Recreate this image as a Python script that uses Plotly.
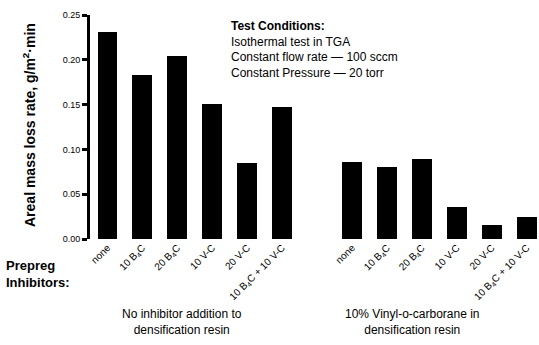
import plotly.graph_objects as go

inhibitors = ["none", "10 B<sub>4</sub>C", "20 B<sub>4</sub>C", "10 V-C", "20 V-C",
              "10 B<sub>4</sub>C + 10 V-C"]
no_additive = [0.231, 0.183, 0.204, 0.151, 0.085, 0.147]
vinyl_carborane = [0.086, 0.080, 0.089, 0.036, 0.016, 0.025]
y_ticks = [0.00, 0.05, 0.10, 0.15, 0.20, 0.25]

gap = 1
pos1 = list(range(len(inhibitors)))
pos2 = [p + len(inhibitors) + gap for p in pos1]

fig = go.Figure()
fig.add_trace(go.Bar(x=pos1, y=no_additive, marker=dict(color="black", line=dict(width=0)),
                     width=0.57, showlegend=False))
fig.add_trace(go.Bar(x=pos2, y=vinyl_carborane, marker=dict(color="black", line=dict(width=0)),
                     width=0.57, showlegend=False))

axis_color = "black"
font = "Liberation Sans, Arial, sans-serif"
fig.update_layout(
    width=539, height=345,
    margin=dict(l=90, r=0, t=15, b=106, autoexpand=False),
    plot_bgcolor="white", paper_bgcolor="white",
    font=dict(family=font, color="black"),
    xaxis=dict(range=[-0.5, 12.35], tickvals=pos1 + pos2, ticktext=inhibitors + inhibitors,
               tickangle=-45, tickfont=dict(size=10), ticks="", showgrid=False,
               zeroline=False, showline=False, automargin=False),
    yaxis=dict(range=[0, 0.25], tickmode="array", tickvals=y_ticks, tickformat=".2f",
               tickfont=dict(size=9), ticks="outside", ticklen=5, tickwidth=3,
               tickcolor=axis_color,
               showline=True, linewidth=3, linecolor=axis_color, showgrid=False, zeroline=False,
               automargin=False),
    bargap=0,
)

def px_x(p):
    return (p - 90) / 449

def px_y(p):
    return (239 - p) / 224

fig.add_annotation(xref="paper", yref="paper", x=px_x(29), y=px_y(125), textangle=-90,
                   text="<b>Areal mass loss rate, g/m<sup>2</sup>·min</b>", showarrow=False,
                   font=dict(size=14), xanchor="center", yanchor="middle")
fig.add_annotation(xref="paper", yref="paper", x=px_x(229), y=px_y(17), xanchor="left", yanchor="top",
                   align="left", showarrow=False, font=dict(size=12),
                   text="<b>Test Conditions:</b><br>Isothermal test in TGA<br>"
                        "Constant flow rate — 100 sccm<br>Constant Pressure — 20 torr")
fig.add_annotation(xref="paper", yref="paper", x=px_x(4), y=px_y(256), xanchor="left", yanchor="top",
                   align="left", showarrow=False, font=dict(size=13),
                   text="<b>Prepreg<br>Inhibitors:</b>")
fig.add_annotation(xref="paper", yref="paper", x=px_x(182), y=px_y(305), xanchor="center", yanchor="top",
                   align="center", showarrow=False, font=dict(size=12),
                   text="No inhibitor addition to<br>densification resin")
fig.add_annotation(xref="paper", yref="paper", x=px_x(412), y=px_y(305), xanchor="center", yanchor="top",
                   align="center", showarrow=False, font=dict(size=12),
                   text="10% Vinyl-o-carborane in<br>densification resin")

fig.write_html("out.html", config={"displayModeBar": False},
               post_script="document.body.style.margin='0';")
